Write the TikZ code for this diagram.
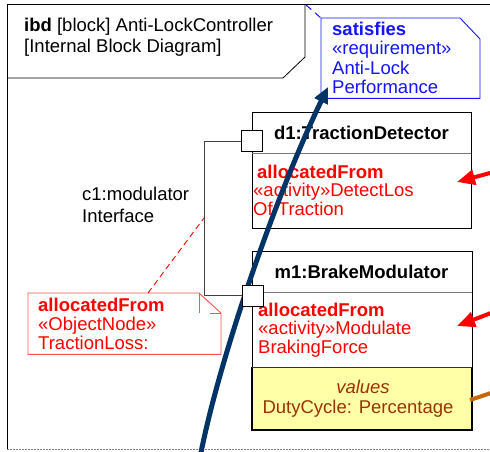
\documentclass[tikz,border=0pt]{standalone}
\usepackage{fontspec}
\setmainfont{Liberation Sans}
\usetikzlibrary{arrows.meta}
\definecolor{reqblue}{RGB}{20,20,255}
\definecolor{allocred}{RGB}{255,0,0}
\definecolor{notered}{RGB}{255,80,80}
\definecolor{navy}{RGB}{0,51,102}
\definecolor{valbrown}{RGB}{153,51,0}
\definecolor{valfill}{RGB}{255,255,168}
\definecolor{orangeln}{RGB}{204,102,0}
\definecolor{divgray}{RGB}{120,120,120}
\begin{document}
\begin{tikzpicture}[x=1pt,y=-1pt,
  lbl/.style={inner sep=0pt, anchor=base west, font=\fontsize{18.5}{20}\selectfont},
  clbl/.style={inner sep=0pt, anchor=base, font=\fontsize{18.5}{20}\selectfont},
  blockbox/.style={draw=black, line width=1.2pt, fill=white, inner sep=0pt, anchor=north west},
  portbox/.style={draw=black, line width=0.9pt, fill=white, inner sep=0pt, minimum size=21pt},
  divider/.style={draw=divgray, line width=1pt},
  allocarrow/.style={draw=allocred, line width=4pt, -{Triangle[length=18pt,width=15pt]}},
  ]
\useasboundingbox (0,0) rectangle (490,451);
\clip (0,0) rectangle (490,451);
\fill[white] (0,0) rectangle (490,451);

% frame
\draw[line width=1pt] (7,449) -- (7,4) -- (495,4);
\draw[line width=0.8pt, gray, dash pattern=on 2pt off 1pt] (7,449) -- (495,449);
\draw[line width=0.8pt] (7,78) -- (283,78) -- (305,57) -- (305,4);
\node[lbl] (t1) at (24,31) {\textbf{ibd} [block] Anti-LockController};
\node[lbl] (t2) at (24,52) {[Internal Block Diagram]};

% requirement note
\node[inner sep=0pt, minimum width=159pt, minimum height=80pt, anchor=north west] (req) at (321,18) {};
\draw[reqblue, line width=0.9pt, fill=white] (req.north west) -- ++(139,0) -- ++(20,21) |- (req.south west) -- cycle;
\draw[reqblue, line width=1pt, dash pattern=on 7pt off 5pt] (306,5) -- (req.north west);
\node[lbl, text=reqblue] (r1) at (332,35) {\textbf{satisfies}};
\node[lbl, text=reqblue] (r2) at (332,54.5) {«requirement»};
\node[lbl, text=reqblue] (r3) at (332,74) {Anti-Lock};
\node[lbl, text=reqblue] (r4) at (332,93) {Performance};

% d1 block
\node[blockbox, minimum width=219pt, minimum height=116pt] (d1) at (252,112) {};
\draw[divider] (252,153) -- (471,153);
\node[clbl] (d1t) at (361.5,139) {\textbf{d1:TractionDetector}};
\node[lbl, text=allocred] (d1a) at (257,178) {\textbf{allocatedFrom}};
\node[lbl, text=allocred] (d1b) at (253,196.5) {«activity»DetectLos};
\node[lbl, text=allocred] (d1c) at (253,215) {Of Traction};

% m1 block
\node[blockbox, minimum width=220pt, minimum height=179pt] (m1) at (252,251) {};
\fill[valfill] (252,367) rectangle (472,430);
\draw[line width=1.2pt] (252,367) -- (252,430) -- (472,430) -- (472,367);
\draw[line width=1pt, black!80] (252,367) -- (472,367);
\draw[divider] (252,292) -- (472,292);
\node[clbl] (m1t) at (361.5,278) {\textbf{m1:BrakeModulator}};
\node[lbl, text=allocred] (m1a) at (258,316) {\textbf{allocatedFrom}};
\node[lbl, text=allocred] (m1b) at (258,334.5) {«activity»Modulate};
\node[lbl, text=allocred] (m1c) at (258,353) {BrakingForce};
\node[clbl, text=valbrown] (v1) at (363,393) {\textit{values}};
\node[clbl, text=valbrown] (v2) at (358,413) {DutyCycle: Percentage};

% connector c1
\node[portbox] (p1) at (252,141) {};
\node[portbox] (p2) at (252.5,295.5) {};
\coordinate (c1bend) at (204,141);
\draw[line width=0.9pt, black!75] (p1.west) -- (c1bend) |- (p2.west);
\node[lbl] (c1a) at (82,200) {c1:modulator};
\node[lbl] (c1b) at (82,222) {Interface};

% allocation note on c1
\node[inner sep=0pt, minimum width=193pt, minimum height=61pt, anchor=north west] (an) at (28,293) {};
\draw[notered, line width=0.9pt, fill=white] (an.north west) -- ++(171,0) -- ++(22,20) |- (an.south west) -- cycle;
\draw[notered, line width=0.9pt] (199,293) -- (199,313);
\draw[notered, line width=0.9pt] (210,313) -- (221,313);
\coordinate (anlink) at (204,218);
\draw[allocred, line width=0.9pt, dash pattern=on 6pt off 4pt] (148,293) -- (anlink);
\node[lbl, text=allocred] (n1) at (38,311) {\textbf{allocatedFrom}};
\node[lbl, text=allocred] (n2) at (38,330) {«ObjectNode»};
\node[lbl, text=allocred] (n3) at (38,349.5) {TractionLoss:};

% satisfy curve
\coordinate (sA) at (200.5,455);
\coordinate (sB) at (328,87);
\draw[navy, line width=5pt, -{Triangle[length=16pt,width=14pt]}] (sA) .. controls (221,351) and (280,186) .. (sB);
% redraw ports on top
\node[portbox] (p1b) at (252,141) {};
\node[portbox] (p2b) at (252.5,295.5) {};

% allocation arrows from the right
\coordinate (a1s) at (512,167); \coordinate (a1e) at (457,182);
\coordinate (a2s) at (512,305); \coordinate (a2e) at (457,326);
\draw[allocarrow] (a1s) -- (a1e);
\draw[allocarrow] (a2s) -- (a2e);
\coordinate (o1s) at (512,386); \coordinate (o1e) at (470,400);
\draw[orangeln, line width=4pt] (o1s) -- (o1e);
\end{tikzpicture}
\end{document}
